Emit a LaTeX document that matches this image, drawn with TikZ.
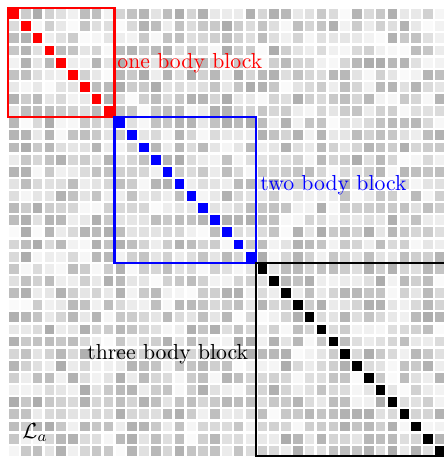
\documentclass[tikz,border=0pt]{standalone}
\tikzset{
  cellbox/.style={fill=black!#1},
  blockbox/.style={line width=0.95pt},
  lbl/.style={inner sep=0pt, anchor=base west, font=\normalsize}
}
\newcommand{\cw}{11.83}
\newcommand{\ch}{12.13}
\begin{document}
\begin{tikzpicture}[x=0.46pt,y=-0.46pt]
\useasboundingbox (0,0) rectangle (444,457);
\begin{scope}
\clip (0,0) rectangle (444,457);
\pgfmathsetseed{20231}
\foreach \i in {0,...,36}{
  \foreach \j in {0,...,36}{
    \pgfmathtruncatemacro\g{2+31*rnd}
    \fill[black!\g] ({8+\j*\cw+1.15},{8+\i*\ch+1.15}) rectangle ({8+(\j+1)*\cw-1.15},{8+(\i+1)*\ch-1.15});
  }
}
\foreach \k in {0,...,36}{
  \pgfmathtruncatemacro\col{\k<9 ? 1 : (\k<21 ? 2 : 3)}
  \ifnum\col=1 \def\cc{red}\fi
  \ifnum\col=2 \def\cc{blue}\fi
  \ifnum\col=3 \def\cc{black}\fi
  \fill[\cc] ({8+\k*\cw+1.15},{8+\k*\ch+1.15}) rectangle ({8+(\k+1)*\cw-1.15},{8+(\k+1)*\ch-1.15});
}
\draw[blockbox, red]   (8,8) rectangle ({8+9*\cw},{8+9*\ch});
\draw[blockbox, blue]  ({8+9*\cw},{8+9*\ch}) rectangle ({8+21*\cw},{8+21*\ch});
\draw[blockbox, black] ({8+21*\cw},{8+21*\ch}) rectangle ({8+37*\cw},{8+37*\ch-0.8});
\end{scope}
\node[lbl, red]  (one)   at (117,68)  {one body block};
\node[lbl, blue] (two)   at (260,190) {two body block};
\node[lbl]       (three) at (87,359)  {three body block};
\node[lbl]       (La)    at (22,438)  {$\mathcal{L}_a$};
\end{tikzpicture}
\end{document}
